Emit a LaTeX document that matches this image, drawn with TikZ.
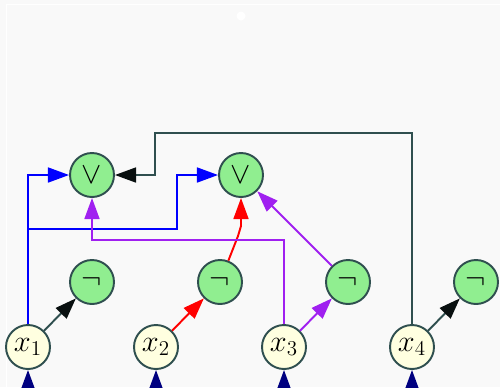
\documentclass[tikz,border=0pt]{standalone}
\usetikzlibrary{arrows.meta}
\definecolor{bgpage}{HTML}{F9F9F9}
\definecolor{slate}{HTML}{2F4F4F}
\definecolor{gatefill}{HTML}{90EE90}
\definecolor{varfill}{HTML}{FFFFE0}
\definecolor{feedcol}{HTML}{000080}
\definecolor{violet}{HTML}{A020F0}

\begin{document}
\begin{tikzpicture}[x=0.02cm,y=-0.02cm,
  gate/.style={circle,draw=slate,line width=1.1pt,minimum size=0.88cm,inner sep=0pt,font=\LARGE},
  varbox/.style={gate,fill=varfill},
  notbox/.style={gate,fill=gatefill},
  orbox/.style={gate,fill=gatefill},
  wire/.style={line width=1.1pt,-{Triangle[length=12pt,width=8.5pt]}},
  darkwire/.style={line width=1.1pt,slate,-{Triangle[length=12pt,width=8.5pt,color=black!80!slate]}},
  feed/.style={wire,feedcol}]
  \useasboundingbox (0,0) rectangle (500,387);
  \clip (0,0) rectangle (500,387);
  \fill[bgpage] (0,0) rectangle (500,387);
  \draw[white,line width=1.1pt] (6.5,387) -- (6.5,4.5) -- (500,4.5);
  \fill[white] (241,16) circle (4.5);
  % inputs and negations
  \foreach \i/\x in {1/28,2/156,3/284,4/412} { \node[varbox] (x\i) at (\x,347) {$x_{\i}$}; }
  \foreach \i/\x in {1/92,2/220,3/348,4/476} { \node[notbox] (n\i) at (\x,282) {$\neg$}; }
  % disjunctions
  \node[orbox] (o1) at (92,175) {$\vee$};
  \node[orbox] (o2) at (241,175) {$\vee$};
  % feeds from below
  \foreach \i/\x in {1/28,2/156,3/284,4/412} {
    \coordinate (s\i) at (\x,405);
    \draw[feed] (s\i) -- (x\i);
  }
  % edges
  \draw[darkwire] (x1) -- (n1);
  \draw[wire,red] (x2) -- (n2);
  \draw[wire,violet] (x3) -- (n3);
  \draw[darkwire] (x4) -- (n4);
  \draw[wire,blue] (x1) |- (o1);
  \draw[wire,blue] (x1.north) |- (177,229) |- (o2);
  \draw[wire,red] (n2) -- (238,236) -- (241,226) -- (o2);
  \draw[wire,violet] (x3) |- (92,240) -- (o1);
  \draw[wire,violet] (n3) -- (o2);
  \draw[darkwire] (x4) |- (155,133) |- (o1);
\end{tikzpicture}
\end{document}
